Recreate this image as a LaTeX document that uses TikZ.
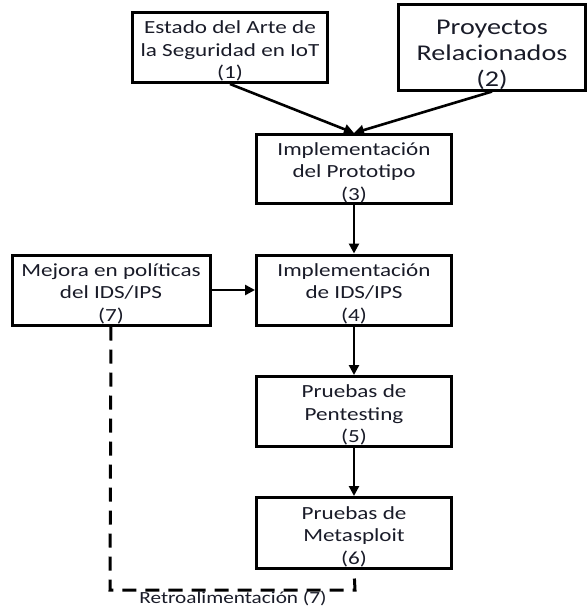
\documentclass[tikz,border=0pt]{standalone}
\usepackage{fontspec}
\setmainfont{Carlito}[FakeStretch=1.25]
\usetikzlibrary{arrows.meta}
\definecolor{textoazul}{RGB}{25,27,40}

\begin{document}
\begin{tikzpicture}[x=1pt,y=-1pt,
  caja/.style={rectangle,draw,line width=3pt,align=center,text=textoazul,
    minimum width=195pt,minimum height=70pt,inner sep=0pt,
    font=\fontsize{18.5}{22.5}\selectfont},
  flecha/.style={-{Triangle[length=10pt,width=10pt]},line width=2.6pt},
  retro/.style={line width=3pt,dash pattern=on 14pt off 9pt}]
\useasboundingbox (0,0) rectangle (588,608);
%cajas
\path (230,47.5) node (estado) [caja] {\rule{0pt}{20pt}Estado del Arte de\\la Seguridad en IoT\\(1)};
\path (492,47.5) node (proyectos) [caja,minimum width=187pt,font=\fontsize{22.5}{26}\selectfont] {\rule{0pt}{30pt}Proyectos\\Relacionados\\(2)};
\path (354,169) node (prototipo) [caja,minimum height=69pt] {\rule{0pt}{20pt}Implementación\\del Prototipo\\(3)};
\path (354,290) node (ids) [caja] {\rule{0pt}{20pt}Implementación\\de IDS/IPS\\(4)};
\path (111,290) node (mejora) [caja,minimum width=198pt] {\rule{0pt}{20pt}Mejora en políticas\\del IDS/IPS\\(7)};
\path (354,411.5) node (pentest) [caja] {\rule{0pt}{20pt}Pruebas de\\Pentesting\\(5)};
\path (354,533) node (metasploit) [caja,minimum height=71pt] {\rule{0pt}{20pt}Pruebas de\\Metasploit\\(6)};
%flechas
\draw[flecha] (estado.south) -- (prototipo.north);
\draw[flecha] (proyectos.south) -- (prototipo.north);
\draw[flecha] (prototipo) -- (ids);
\draw[flecha] (mejora) -- (ids);
\draw[flecha] (ids) -- (pentest);
\draw[flecha] (pentest) -- (metasploit);
%retroalimentacion
\coordinate (esq1) at (110,590);
\coordinate (esq2) at (355,590);
\draw[retro] (mejora.south) -- (esq1) -- (esq2) -- (metasploit.south);
\path (233,598.5) node (etiqueta) [text=textoazul,font=\fontsize{17}{20}\selectfont] {Retroalimentación (7)};
\end{tikzpicture}
\end{document}
